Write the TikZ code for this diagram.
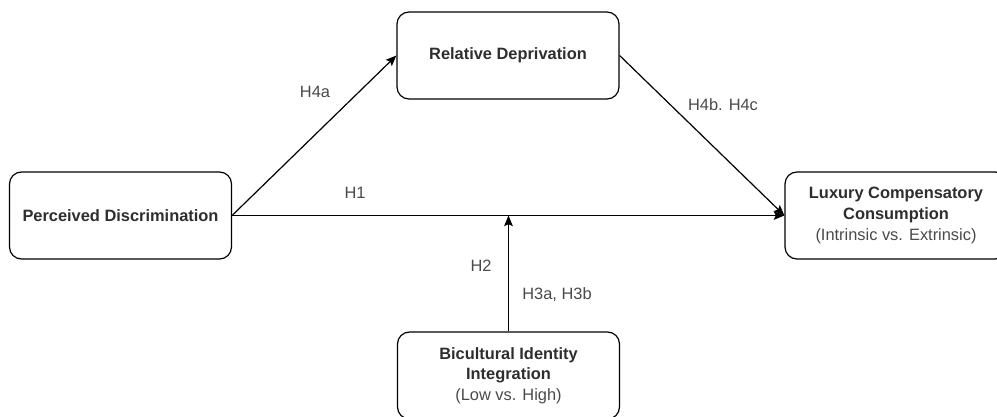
\documentclass[tikz,border=0pt]{standalone}
\usepackage{fontspec}
\setmainfont{Liberation Sans}
\usetikzlibrary{arrows.meta}
\definecolor{boldtxt}{HTML}{2E2E2E}
\definecolor{regtxt}{HTML}{4A4A4A}
\begin{document}
\begin{tikzpicture}[x=0.75pt,y=-0.75pt,
  box/.style={draw=black, line width=0.9pt, rounded corners=9pt,
    minimum width=166.5pt, minimum height=65.25pt, inner sep=0pt,
    align=center, text=boldtxt,
    font=\fontsize{12.3}{15.4}\selectfont\bfseries},
  lbl/.style={text=regtxt, font=\fontsize{12.3}{15.4}\selectfont, inner sep=0pt},
  conn/.style={line width=0.9pt, draw=black},
  arr/.style={conn, -{Stealth[length=8pt,width=6.5pt,inset=1.5pt]}}]
\useasboundingbox (0,0) rectangle (997,417);
\clip (0,0) rectangle (997,417);
\fill[white] (0,0) rectangle (997,417);
\node[box] (pd) at (120.5,215.5) {Perceived Discrimination};
\node[box] (rd) at (508,55.5) {Relative Deprivation};
\node[box] (lc) at (896,215.5) {Luxury Compensatory\\Consumption\\{\mdseries\color{regtxt}(Intrinsic vs. Extrinsic)}};
\node[box] (bi) at (508.5,375.5) {Bicultural Identity\\Integration\\{\mdseries\color{regtxt}(Low vs. High)}};
\coordinate (mod) at (bi.north |- pd.east);
\draw[arr] (pd.east) -- (rd.west);
\draw[arr] (pd.east) -- (lc.west);
\draw[arr] (rd.east) -- (lc.west);
\draw[arr] (bi.north) -- (mod);
\node[lbl] (h4a) at (315,92) {H4a};
\node[lbl] (h1) at (355,193) {H1};
\node[lbl] (h2) at (481,266) {H2};
\node[lbl] (h3) at (557,295) {H3a, H3b};
\node[lbl] (h4b) at (723,105) {H4b. H4c};
\end{tikzpicture}
\end{document}
